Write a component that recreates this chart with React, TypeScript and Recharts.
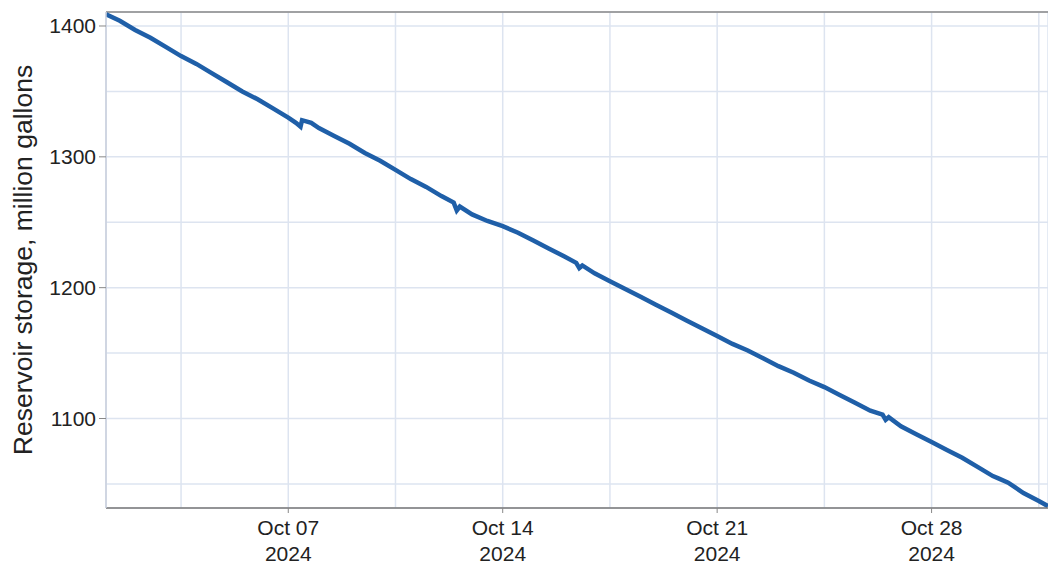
import { LineChart, Line, XAxis, YAxis, CartesianGrid, ReferenceLine } from 'recharts';

// day of October 2024 (fractional) and storage, million gallons
const days = [
  1.05, 1.5, 2, 2.5, 3, 3.5, 4, 4.5, 5, 5.5, 6, 6.5, 7, 7.25, 7.4, 7.45, 7.75, 8, 8.5, 9, 9.5, 10,
  10.5, 11, 11.5, 12, 12.4, 12.5, 12.6, 13, 13.5, 14, 14.5, 15, 15.5, 16, 16.4, 16.5, 16.6, 17, 17.5,
  18, 18.5, 19, 19.5, 20, 20.5, 21, 21.5, 22, 22.5, 23, 23.5, 24, 24.5, 25, 25.5, 26, 26.4, 26.5,
  26.6, 27, 27.5, 28, 28.5, 29, 29.5, 30, 30.2, 30.5, 31, 31.5, 31.8,
];
const storage = [
  1409, 1404, 1397, 1391, 1384, 1377, 1371, 1364, 1357, 1350, 1344, 1337, 1330, 1326, 1323, 1328,
  1326, 1322, 1316, 1310, 1303, 1297, 1290, 1283, 1277, 1270, 1265, 1259, 1262, 1256, 1251, 1247,
  1242, 1236, 1230, 1224, 1219, 1215, 1217, 1211, 1205, 1199, 1193, 1187, 1181, 1175, 1169, 1163,
  1157, 1152, 1146, 1140, 1135, 1129, 1124, 1118, 1112, 1106, 1103, 1099, 1101, 1094, 1088, 1082,
  1076, 1070, 1063, 1056, 1054, 1051, 1043, 1037, 1033,
];

const xTicks = [3.5, 7, 10.5, 14, 17.5, 21, 24.5, 28, 31.5];
const xMajor = [7, 14, 21, 28];
const yTicks = [1050, 1100, 1150, 1200, 1250, 1300, 1350, 1400];
const yMajor = [1100, 1200, 1300, 1400];
const yDomain = [1031.6, 1410.7];

const data = days.map((d, i) => ({ day: d, value: storage[i] }));

const font = '"Liberation Sans", Arial, sans-serif';

function XTick(props: any) {
  const { x, y, payload } = props;
  if (!xMajor.includes(payload.value)) return null;
  const label = 'Oct ' + String(payload.value).padStart(2, '0');
  return (
    <g>
      <line x1={x} x2={x} y1={y} y2={y + 5} stroke="#888" />
      <text x={x} y={y + 27} textAnchor="middle" fontSize={21} fill="#222" fontFamily={font}>{label}</text>
      <text x={x} y={y + 53} textAnchor="middle" fontSize={21} fill="#222" fontFamily={font}>2024</text>
    </g>
  );
}

function YTick(props: any) {
  const { x, y, payload } = props;
  if (!yMajor.includes(payload.value)) return null;
  return (
    <g>
      <line x1={x} x2={x + 7} y1={y} y2={y} stroke="#888" />
      <text x={x - 3} y={y + 7.5} textAnchor="end" fontSize={21} fill="#222" fontFamily={font}>{payload.value}</text>
    </g>
  );
}

function YLabel(props: any) {
  const { viewBox } = props;
  const cx = viewBox.x + 23;
  const cy = viewBox.y + viewBox.height / 2;
  return (
    <text
      x={cx}
      y={cy}
      transform={`rotate(-90, ${cx}, ${cy})`}
      textAnchor="middle"
      dominantBaseline="central"
      fontSize={26.5}
      fill="#222"
      fontFamily={font}
    >
      Reservoir storage, million gallons
    </text>
  );
}

export default function App() {
  return (
    <div style={{ position: 'absolute', left: 0, top: 0, background: '#fff' }}>
      <LineChart width={1048} height={567} data={data} margin={{ top: 12, right: 0, bottom: 0, left: 0 }}>
        <CartesianGrid stroke="#dde4f0" strokeWidth={1.5} />
        <XAxis
          dataKey="day"
          type="number"
          domain={[1.05, 31.8]}
          ticks={xTicks}
          allowDataOverflow
          height={59}
          tickSize={0}
          tickMargin={0}
          tickLine={false}
          axisLine={{ stroke: '#777', strokeWidth: 1.5 }}
          tick={<XTick />}
          interval={0}
        />
        <YAxis
          type="number"
          domain={yDomain}
          ticks={yTicks}
          allowDataOverflow
          width={106}
          tickSize={7}
          tickMargin={0}
          tickLine={false}
          axisLine={{ stroke: '#c8cfdc', strokeWidth: 1.5 }}
          tick={<YTick />}
          interval={0}
          label={<YLabel />}
        />
        <ReferenceLine y={yDomain[1]} stroke="#888" strokeWidth={1.5} />
        <Line
          type="linear"
          dataKey="value"
          stroke="#1f5fa8"
          strokeWidth={4.5}
          dot={false}
          isAnimationActive={false}
        />
      </LineChart>
    </div>
  );
}
